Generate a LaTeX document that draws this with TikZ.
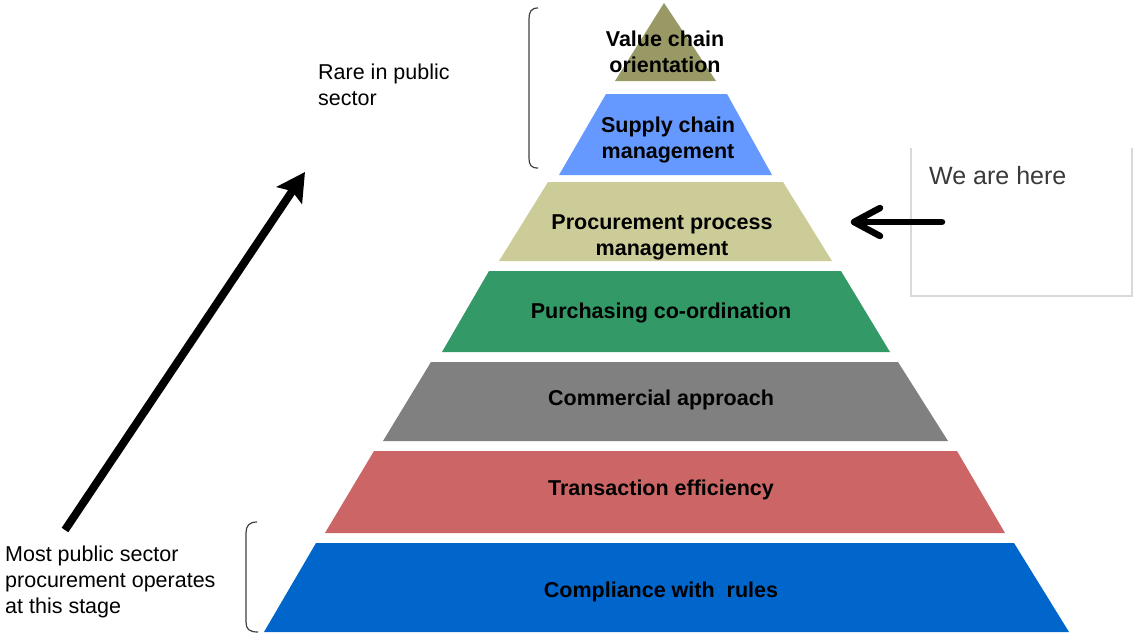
\documentclass[tikz,border=0pt]{standalone}
\usepackage{fontspec}
\setmainfont{Liberation Sans}
\usetikzlibrary{arrows.meta}
\definecolor{lvA}{HTML}{999966}
\definecolor{lvB}{HTML}{6699FF}
\definecolor{lvC}{HTML}{CCCC99}
\definecolor{lvD}{HTML}{339966}
\definecolor{lvE}{HTML}{808080}
\definecolor{lvF}{HTML}{CC6666}
\definecolor{lvG}{HTML}{0066CC}
\definecolor{bracketgray}{HTML}{404040}
\definecolor{boxgray}{HTML}{D9D9D9}
\definecolor{heretext}{HTML}{3A3A3A}
\begin{document}
\begin{tikzpicture}[x=1pt,y=-1pt,
  lvlabel/.style={inner sep=0pt, align=center, font=\fontsize{21.5}{26}\selectfont\bfseries, text=black},
  sidelabel/.style={inner sep=0pt, anchor=west, align=left, font=\fontsize{21.5}{26}\selectfont, text=black},
  bracketline/.style={draw=bracketgray, line width=1.2pt},
  boxline/.style={draw=boxgray, line width=1.5pt},
  bigarrow/.style={line width=8pt, -{Stealth[length=28pt,width=30pt,inset=5pt]}},
  herearrow/.style={line width=6.5pt, line cap=round, line join=round}
]
\useasboundingbox (0,0) rectangle (1133,635);
\fill[white] (0,0) rectangle (1133,635);

% pyramid levels
\fill[lvA] (664,3) -- (716,81) -- (615,81) -- cycle;
\fill[lvB] (606,94) -- (727,94) -- (772,175) -- (559,175) -- cycle;
\fill[lvC] (548,182) -- (783,182) -- (832,261) -- (499,261) -- cycle;
\fill[lvD] (489,271) -- (841,271) -- (890,352) -- (442,352) -- cycle;
\fill[lvE] (431,362) -- (898,362) -- (948,441) -- (383,441) -- cycle;
\fill[lvF] (374,451) -- (957,451) -- (1005,533) -- (325,533) -- cycle;
\fill[lvG] (316,543) -- (1014,543) -- (1069,632) -- (264,632) -- cycle;

% level labels
\node[lvlabel] (l1) at (665,52) {Value chain\\orientation};
\node[lvlabel] (l2) at (668,139.5) {Supply chain\\management};
\node[lvlabel] (l3) at (662,237.5) {Procurement process\\management};
\node[lvlabel] (l4) at (661,312.5) {Purchasing co-ordination};
\node[lvlabel] (l5) at (661,399.5) {Commercial approach};
\node[lvlabel] (l6) at (661,489.5) {Transaction efficiency};
\node[lvlabel] (l7) at (661,591.5) {Compliance with\ \ rules};

% brackets
\draw[bracketline] (538,8) .. controls (531,8) and (529,12) .. (529,19) -- (529,158) .. controls (529,165) and (531,168) .. (538,168);
\draw[bracketline] (257,522) .. controls (249,522) and (246,526) .. (246,533) -- (246,622) .. controls (246,629) and (249,632) .. (258,632);

% side texts
\node[sidelabel] (rare) at (318,85) {Rare in public\\sector};
\node[sidelabel] (most) at (5,582) {Most public sector\\procurement operates\\at this stage};

% big diagonal arrow
\coordinate (up0) at (65,530);
\coordinate (up1) at (305,172);
\draw[bigarrow] (up0) -- (up1);

% we are here box
\draw[boxline] (911,148) -- (911,296) -- (1132,296) -- (1132,148);
\node[inner sep=0pt, anchor=west, font=\fontsize{25}{30}\selectfont, text=heretext] (here) at (929,176) {We are here};
\coordinate (h0) at (942,222);
\coordinate (h1) at (854,222);
\coordinate (hu) at (880,208);
\coordinate (hd) at (880,236);
\draw[herearrow] (h0) -- (h1);
\draw[herearrow] (hu) -- (h1) -- (hd);
\end{tikzpicture}
\end{document}
